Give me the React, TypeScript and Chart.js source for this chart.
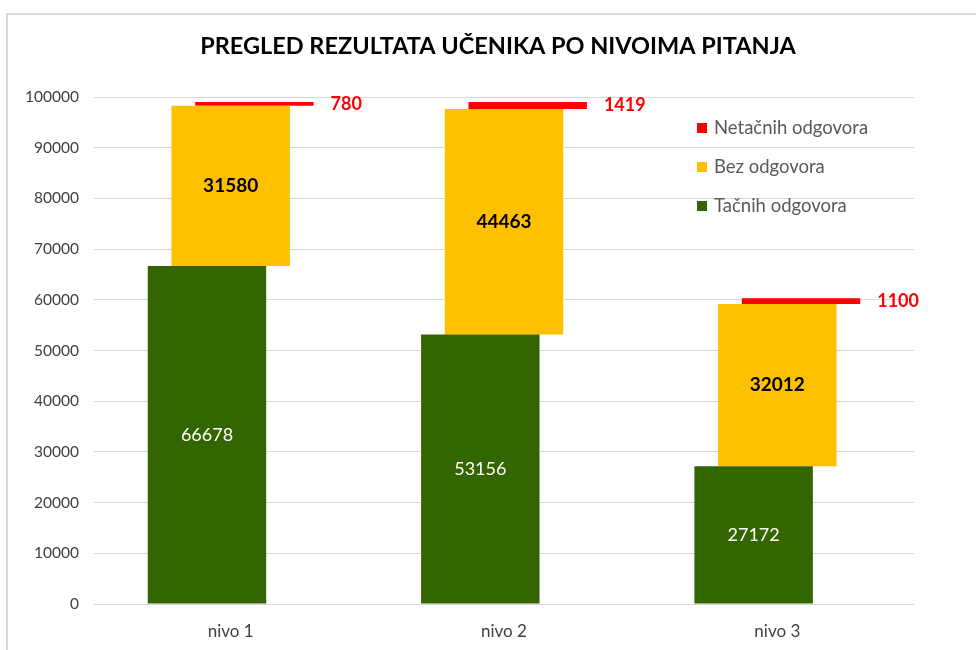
import React, { useEffect, useRef } from "react";
import { Chart, registerables } from "chart.js";

Chart.register(...registerables);

const chartTitle = "PREGLED REZULTATA UČENIKA PO NIVOIMA PITANJA";
const categories = ["nivo 1", "nivo 2", "nivo 3"];
const tacnihOdgovora = [66678, 53156, 27172];
const bezOdgovora = [31580, 44463, 32012];
const netacnihOdgovora = [780, 1419, 1100];
const seriesNames = ["Tačnih odgovora", "Bez odgovora", "Netačnih odgovora"];
const seriesColors = ["#336600", "#FFC000", "#FF0000"];
const yMin = 0;
const yMax = 100000;
const yStep = 10000;

const FONT = "Lato, 'Open Sans', sans-serif";

const titlePlugin = {
  id: "customTitle",
  afterDraw(chart: any) {
    const ctx = chart.ctx;
    ctx.save();
    ctx.font = `bold 23.5px ${FONT}`;
    ctx.fillStyle = "#000000";
    ctx.textAlign = "center";
    ctx.textBaseline = "middle";
    ctx.fillText(chartTitle, 498, 46);
    ctx.restore();
  },
};

const valueLabelPlugin = {
  id: "valueLabels",
  afterDatasetsDraw(chart: any) {
    const ctx = chart.ctx;
    ctx.save();
    const sources = [tacnihOdgovora, bezOdgovora, netacnihOdgovora];
    chart.data.datasets.forEach((ds: any, di: number) => {
      const meta = chart.getDatasetMeta(di);
      meta.data.forEach((el: any, i: number) => {
        const v = sources[di][i];
        const cy = (el.y + el.base) / 2;
        if (di === 0) {
          ctx.font = `18px ${FONT}`;
          ctx.fillStyle = "#FFFFFF";
          ctx.textAlign = "center";
          ctx.textBaseline = "middle";
          ctx.fillText(String(v), el.x, cy);
        } else if (di === 1) {
          ctx.font = `bold 19px ${FONT}`;
          ctx.fillStyle = "#000000";
          ctx.textAlign = "center";
          ctx.textBaseline = "middle";
          ctx.fillText(String(v), el.x, cy);
        } else {
          ctx.font = `bold 18px ${FONT}`;
          ctx.fillStyle = "#FF0000";
          ctx.textAlign = "left";
          ctx.textBaseline = "middle";
          ctx.fillText(String(v), el.x + el.width / 2 + 17, cy);
        }
      });
    });
    ctx.restore();
  },
};

const legendPlugin = {
  id: "customLegend",
  afterDraw(chart: any) {
    const ctx = chart.ctx;
    ctx.save();
    ctx.font = `18.5px ${FONT}`;
    ctx.textAlign = "left";
    ctx.textBaseline = "middle";
    const order = [2, 1, 0];
    order.forEach((si, k) => {
      const cy = 128 + k * 39;
      ctx.fillStyle = seriesColors[si];
      ctx.fillRect(697, cy - 5, 10, 10);
      ctx.fillStyle = "#595959";
      ctx.fillText(seriesNames[si], 714, cy);
    });
    ctx.restore();
  },
};

export default function App() {
  const canvasRef = useRef<HTMLCanvasElement | null>(null);

  useEffect(() => {
    if (!canvasRef.current) return;
    const yellowRange = bezOdgovora.map((v, i) => [tacnihOdgovora[i], tacnihOdgovora[i] + v]);
    const redRange = netacnihOdgovora.map((v, i) => {
      const base = tacnihOdgovora[i] + bezOdgovora[i];
      return [base, base + v];
    });
    const chart = new Chart(canvasRef.current, {
      type: "bar",
      data: {
        labels: categories,
        datasets: [
          { label: seriesNames[0], data: tacnihOdgovora, backgroundColor: seriesColors[0] },
          { label: seriesNames[1], data: yellowRange as any, backgroundColor: seriesColors[1] },
          { label: seriesNames[2], data: redRange as any, backgroundColor: seriesColors[2] },
        ],
      },
      options: {
        animation: false,
        responsive: false,
        devicePixelRatio: 1,
        layout: { padding: { left: 8, right: 62, top: 97, bottom: 6 } },
        datasets: {
          bar: {
            categoryPercentage: 0.26,
            barPercentage: 5.0,
            borderWidth: 0,
          },
        },
        plugins: {
          legend: { display: false },
          title: { display: false },
          tooltip: { enabled: false },
        },
        scales: {
          x: {
            grid: { display: false, drawTicks: false },
            border: { display: false },
            ticks: {
              color: "#404040",
              font: { family: FONT, size: 17 },
              padding: 17,
            },
            afterFit: (scale: any) => {
              scale.height = 40;
            },
          },
          y: {
            min: yMin,
            max: yMax,
            grid: { color: "#D9D9D9", lineWidth: 1, drawTicks: false },
            border: { display: false },
            ticks: {
              stepSize: yStep,
              color: "#404040",
              font: { family: FONT, size: 15.5 },
              padding: 15,
              callback: (value: any) => String(value),
            },
            afterFit: (scale: any) => {
              scale.width = 86;
            },
          },
        },
      },
      plugins: [valueLabelPlugin, legendPlugin, titlePlugin],
    });
    return () => chart.destroy();
  }, []);

  return (
    <div
      style={{
        position: "absolute",
        left: 0,
        top: 0,
        width: 976,
        height: 650,
        overflow: "hidden",
        background: "#FFFFFF",
      }}
    >
      <div
        style={{
          position: "absolute",
          left: 6,
          top: 13,
          width: 1200,
          height: 1000,
          border: "2px solid #D9D9D9",
          boxSizing: "border-box",
        }}
      />
      <canvas
        ref={canvasRef}
        width={976}
        height={650}
        style={{ position: "absolute", left: 0, top: 0, width: 976, height: 650 }}
      />
    </div>
  );
}
